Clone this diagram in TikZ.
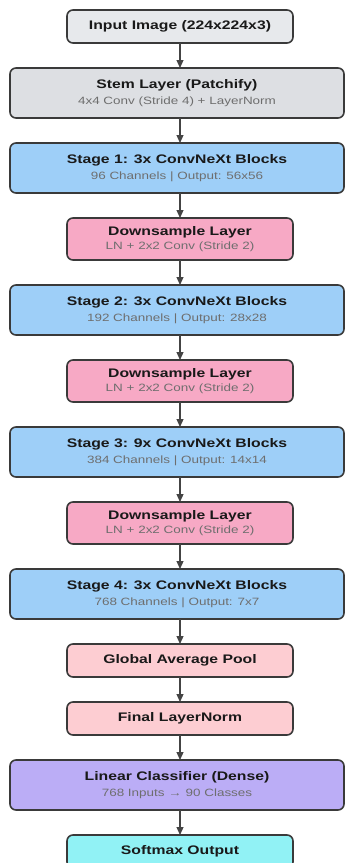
\documentclass[tikz,border=0pt]{standalone}
\usepackage{fontspec}
\setmainfont{Liberation Sans}[FakeStretch=1.27]
\usetikzlibrary{positioning,arrows.meta}

\definecolor{inputgray}{HTML}{E7E9EC}
\definecolor{stemgray}{HTML}{DDDFE3}
\definecolor{stageblue}{HTML}{9ECFF8}
\definecolor{dspink}{HTML}{F7A9C5}
\definecolor{headpink}{HTML}{FDCDD2}
\definecolor{linpurple}{HTML}{BBADF6}
\definecolor{softcyan}{HTML}{91F2F5}
\definecolor{edgegray}{HTML}{3A3A3A}
\definecolor{arrowgray}{HTML}{444444}
\definecolor{subgray}{HTML}{6E6E6E}

\newcommand{\subline}[1]{{\mdseries\fontsize{10.6}{12}\selectfont\color{subgray}#1}}

\begin{document}
\begin{tikzpicture}[x=1pt, y=1pt, node distance=25pt, >={Triangle[length=8pt,width=7pt]},
    box/.style={draw=edgegray, line width=1.6pt, rounded corners=6pt, outer sep=0pt, align=center, inner sep=2pt, text=black!90, font=\bfseries\fontsize{12.4}{16}\selectfont},
    narrow/.style={box, minimum width=226pt, minimum height=33pt},
    wide/.style={box, minimum width=334pt, minimum height=50pt},
    ds/.style={box, fill=dspink, minimum width=226pt, minimum height=42pt},
    flow/.style={->, draw=arrowgray, line width=1.2pt}]

  \useasboundingbox (0,0) rectangle (345,-863);

  \node[narrow, fill=inputgray] (in) at (180,-26.5) {Input Image (224x224x3)};
  \node[wide, fill=stemgray, below=of in, xshift=-3pt] (stem) {Stem Layer (Patchify)\\\subline{4x4 Conv (Stride 4) + LayerNorm}};
  \node[wide, fill=stageblue, below=of stem] (s1) {Stage 1: 3x ConvNeXt Blocks\\\subline{96 Channels | Output: 56x56}};
  \node[ds, below=of s1, xshift=3pt] (ds1) {Downsample Layer\\[-2pt]\subline{LN + 2x2 Conv (Stride 2)}};
  \node[wide, fill=stageblue, below=of ds1, xshift=-3pt] (s2) {Stage 2: 3x ConvNeXt Blocks\\\subline{192 Channels | Output: 28x28}};
  \node[ds, below=of s2, xshift=3pt] (ds2) {Downsample Layer\\[-2pt]\subline{LN + 2x2 Conv (Stride 2)}};
  \node[wide, fill=stageblue, below=of ds2, xshift=-3pt] (s3) {Stage 3: 9x ConvNeXt Blocks\\\subline{384 Channels | Output: 14x14}};
  \node[ds, below=of s3, xshift=3pt] (ds3) {Downsample Layer\\[-2pt]\subline{LN + 2x2 Conv (Stride 2)}};
  \node[wide, fill=stageblue, below=of ds3, xshift=-3pt] (s4) {Stage 4: 3x ConvNeXt Blocks\\\subline{768 Channels | Output: 7x7}};
  \node[narrow, fill=headpink, below=of s4, xshift=3pt] (gap) {Global Average Pool};
  \node[narrow, fill=headpink, below=of gap] (ln) {Final LayerNorm};
  \node[wide, fill=linpurple, below=of ln, xshift=-3pt] (lin) {Linear Classifier (Dense)\\\subline{768 Inputs → 90 Classes}};
  \node[narrow, fill=softcyan, below=of lin, xshift=3pt] (out) {Softmax Output};

  % arrows all run down the centre line of the input box
  \foreach \a/\b in {in/stem, stem/s1, s1/ds1, ds1/s2, s2/ds2, ds2/s3, s3/ds3, ds3/s4, s4/gap, gap/ln, ln/lin, lin/out}
    \draw[flow] (\a.south -| in) -- (\b.north -| in);
\end{tikzpicture}
\end{document}
